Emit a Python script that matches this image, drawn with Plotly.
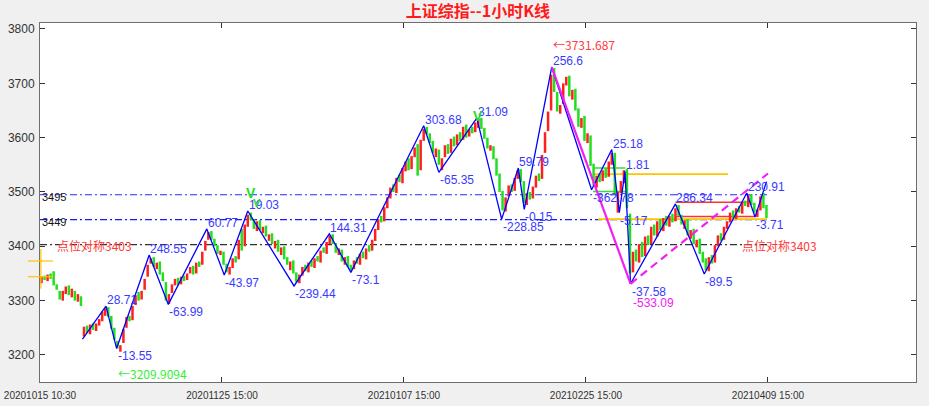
import plotly.graph_objects as go

# ---------------- data ----------------
title_text = "上证综指--1小时K线"
x_tick_vals = [0, 120, 240, 360, 480]
x_tick_text = ["20201015 10:30", "20201125 15:00", "20210107 15:00",
               "20210225 15:00", "20210409 15:00"]
y_tick_vals = [3200, 3300, 3400, 3500, 3600, 3700, 3800]

# candles (each candle = 2 hourly bars)
candle_open = [
    3332, 3346, 3336, 3350, 3354, 3330, 3318, 3300, 3312, 3328,
    3306, 3318, 3298, 3308, 3234, 3254, 3238, 3258, 3244, 3254,
    3262, 3272, 3288, 3272, 3250, 3226, 3206, 3222, 3250, 3272,
    3264, 3292, 3316, 3302, 3320, 3344, 3368, 3380, 3358, 3372,
    3352, 3334, 3294, 3314, 3328, 3342, 3330, 3346, 3338, 3350,
    3364, 3350, 3372, 3366, 3392, 3412, 3428, 3414, 3402, 3384,
    3390, 3368, 3348, 3360, 3382, 3376, 3432, 3400, 3436, 3462,
    3450, 3428, 3448, 3424, 3438, 3410, 3424, 3396, 3412, 3384,
    3400, 3380, 3356, 3374, 3352, 3332, 3346, 3366, 3352, 3374,
    3360, 3382, 3370, 3398, 3386, 3404, 3422, 3406, 3384, 3394,
    3366, 3382, 3366, 3358, 3380, 3366, 3390, 3376, 3402, 3392,
    3410, 3430, 3456, 3446, 3470, 3488, 3514, 3498, 3532, 3516,
    3538, 3562, 3542, 3564, 3588, 3540, 3594, 3620, 3608, 3594,
    3564, 3578, 3540, 3564, 3588, 3572, 3602, 3586, 3610, 3596,
    3624, 3602, 3620, 3610, 3618, 3636, 3618, 3600, 3576, 3584,
    3562, 3534, 3502, 3464, 3492, 3514, 3502, 3524, 3542, 3520,
    3476, 3500, 3488, 3508, 3534, 3524, 3572, 3612, 3650, 3728,
    3684, 3644, 3662, 3696, 3714, 3670, 3690, 3654, 3618, 3640,
    3590, 3604, 3552, 3508, 3534, 3520, 3544, 3528, 3550, 3572,
    3462, 3498, 3516, 3542, 3460, 3352, 3394, 3370, 3408, 3382,
    3420, 3404, 3440, 3418, 3450, 3428, 3456, 3436, 3460, 3446,
    3476, 3458, 3432, 3450, 3414, 3432, 3398, 3414, 3390, 3378,
    3354, 3384, 3370, 3400, 3424, 3412, 3432, 3444, 3466, 3450,
    3474, 3460, 3484, 3472, 3496, 3480, 3454, 3466, 3498, 3476,
]
candle_close = [
    3345, 3338, 3348, 3340, 3328, 3320, 3302, 3318, 3326, 3310,
    3322, 3300, 3312, 3290, 3252, 3240, 3256, 3246, 3258, 3266,
    3280, 3286, 3270, 3248, 3228, 3212, 3218, 3248, 3270, 3262,
    3290, 3310, 3300, 3318, 3340, 3366, 3378, 3362, 3370, 3348,
    3336, 3300, 3312, 3330, 3340, 3328, 3344, 3336, 3350, 3362,
    3348, 3370, 3362, 3390, 3410, 3426, 3412, 3400, 3386, 3392,
    3366, 3352, 3362, 3378, 3370, 3412, 3392, 3440, 3458, 3448,
    3432, 3446, 3430, 3436, 3418, 3422, 3404, 3410, 3390, 3398,
    3376, 3366, 3372, 3350, 3334, 3348, 3362, 3354, 3370, 3362,
    3378, 3372, 3392, 3388, 3408, 3420, 3404, 3388, 3396, 3372,
    3380, 3362, 3356, 3374, 3368, 3386, 3378, 3396, 3390, 3412,
    3432, 3450, 3444, 3472, 3490, 3508, 3500, 3526, 3518, 3544,
    3556, 3540, 3566, 3582, 3530, 3596, 3616, 3606, 3590, 3572,
    3580, 3550, 3562, 3586, 3570, 3598, 3584, 3606, 3594, 3620,
    3600, 3616, 3608, 3628, 3634, 3616, 3598, 3580, 3586, 3560,
    3530, 3500, 3466, 3490, 3512, 3500, 3526, 3540, 3518, 3480,
    3498, 3486, 3510, 3530, 3520, 3568, 3610, 3648, 3716, 3684,
    3648, 3660, 3700, 3712, 3676, 3688, 3650, 3620, 3636, 3594,
    3608, 3548, 3512, 3530, 3518, 3540, 3526, 3556, 3572, 3496,
    3500, 3520, 3540, 3470, 3350, 3390, 3372, 3404, 3380, 3418,
    3402, 3436, 3420, 3446, 3430, 3452, 3438, 3456, 3444, 3470,
    3456, 3440, 3448, 3420, 3430, 3404, 3412, 3386, 3370, 3356,
    3380, 3368, 3402, 3420, 3410, 3436, 3446, 3462, 3452, 3470,
    3462, 3480, 3474, 3494, 3476, 3462, 3468, 3492, 3470, 3452,
]

# zigzag pivots (bar index, price, label, kind: P=peak, T=trough)
zz_bar = [28, 43.5, 50.5, 72, 84.6, 110, 121.5, 137, 167.5, 190.8, 205, 253,
          263, 288, 304.4, 315.4, 319.3, 337.4, 363.7, 377, 382, 385.7, 389.4,
          419, 438, 466, 471.5, 479]
zz_price = [3229, 3290, 3212, 3384, 3293, 3432, 3347, 3465, 3327, 3423, 3352,
            3622, 3536, 3636, 3450, 3544, 3468, 3730, 3504, 3578, 3462, 3538,
            3331, 3478, 3349, 3498, 3454, 3519]
zz_label = ["", "28.71", "-13.55", "248.55", "-63.99", "60.77", "-43.97",
            "19.03", "-239.44", "144.31", "-73.1", "303.68", "-65.35", "31.09",
            "-228.85", "59.79", "-0.15", "256.6", "-362.78", "25.18", "-5.17",
            "1.81", "-37.58", "286.34", "-89.5", "230.91", "-3.71", ""]
zz_kind = ["", "P", "T", "P", "T", "P", "T", "P", "T", "P", "T", "P", "T", "P",
           "T", "P", "T", "P", "T", "P", "T", "P", "T", "P", "T", "P", "T", ""]

# magenta trend lines
trend_solid_bar = [337.4, 389.4]
trend_solid_price = [3730, 3331]
trend_dash_bar = [389.4, 480]
trend_dash_price = [3331, 3534]
trend_label = "-533.09"

# horizontal levels
level_upper = 3495
level_mid = 3449
level_sym = 3403
level_end_bar = 480
sym_label = "点位对称3403"

# yellow / red / green box lines: (start bar, end bar, price)
yellow_lines = [(364.6, 453.6, 3533), (368, 479.3, 3450)]
green_lines = [(364.6, 386, 3544), (364.6, 386, 3501)]
red_lines = [(419, 466, 3481), (419, 471.5, 3455)]
left_mark_levels = [3373, 3344]
left_mark_span = [3322, 3395]

high_text = "←3731.687"
low_text = "←3209.9094"

# ---------------- figure ----------------
RED = "#ff1f1f"
GREEN = "#1fe01f"
BLUE = "#0000ff"
LBLUE = "#3a3aff"
MAG = "#f020f0"
GOLD = "#ffc400"
LAT = "Liberation Sans, Arial, DejaVu Sans"
CJK = "Noto Sans CJK SC"

fig = go.Figure()

# level lines
dd = "7px,3px,2px,3px"
for lv, col in [(level_upper, "#2a2aff"), (level_mid, "#1a1aff"), (level_sym, "#333333")]:
    fig.add_trace(go.Scatter(x=[0, level_end_bar], y=[lv, lv], mode="lines",
                             line=dict(color=col, width=1.1, dash=dd),
                             hoverinfo="skip"))

for lines, col, w in [(yellow_lines, GOLD, 1.8), (green_lines, "#33dd33", 1.5),
                      (red_lines, "#ff3030", 1.5)]:
    xs, ys = [], []
    for b0, b1, p in lines:
        xs += [b0, b1, None]
        ys += [p, p, None]
    fig.add_trace(go.Scatter(x=xs, y=ys, mode="lines",
                             line=dict(color=col, width=w), hoverinfo="skip"))

# candles
cx = [2 * i + 1 for i in range(len(candle_open))]
ux, uy, dx_, dy_ = [], [], [], []
for x, o, c in zip(cx, candle_open, candle_close):
    if c >= o:
        ux += [x, x, None]; uy += [o, c, None]
    else:
        dx_ += [x, x, None]; dy_ += [o, c, None]
fig.add_trace(go.Scatter(x=ux, y=uy, mode="lines", line=dict(color=RED, width=2.5),
                         hoverinfo="skip"))
fig.add_trace(go.Scatter(x=dx_, y=dy_, mode="lines", line=dict(color=GREEN, width=2.5),
                         hoverinfo="skip"))

# zigzag
fig.add_trace(go.Scatter(x=zz_bar, y=zz_price, mode="lines",
                         line=dict(color=BLUE, width=1.3), hoverinfo="skip"))
# magenta trend
fig.add_trace(go.Scatter(x=trend_solid_bar, y=trend_solid_price, mode="lines",
                         line=dict(color=MAG, width=2.2), hoverinfo="skip"))
fig.add_trace(go.Scatter(x=trend_dash_bar, y=trend_dash_price, mode="lines",
                         line=dict(color=MAG, width=2.2, dash="8px,5px"),
                         hoverinfo="skip"))

ann = []
for b, p, t, k in zip(zz_bar, zz_price, zz_label, zz_kind):
    if not t:
        continue
    ann.append(dict(x=b, y=p, text=t, showarrow=False, xanchor="left",
                    yanchor="bottom" if k == "P" else "top",
                    yshift=-3 if k == "P" else 1, xshift=-1,
                    font=dict(family=LAT, size=12, color=LBLUE)))

# trend label
ann.append(dict(x=trend_dash_bar[0], y=trend_dash_price[0], text=trend_label,
                showarrow=False, xanchor="left", yanchor="top", yshift=-10.5,
                font=dict(family=LAT, size=12, color=MAG)))

# green V marks at peaks 19.03 and 31.09
ann.append(dict(x=zz_bar[7], y=zz_price[7], text="<b>V</b>", showarrow=False,
                xshift=3, yshift=18, font=dict(family=LAT, size=14, color="#22dd22")))
ann.append(dict(x=zz_bar[7], y=zz_price[7], text="<b>V</b>", showarrow=False,
                xshift=9, yshift=8, font=dict(family=LAT, size=11, color="#22dd22")))
ann.append(dict(x=zz_bar[13], y=zz_price[13], text="<b>V</b>", showarrow=False,
                xshift=1, yshift=2, font=dict(family=LAT, size=14, color="#22dd22")))

# extreme value labels
ann.append(dict(x=zz_bar[17], y=zz_price[17], text=high_text, showarrow=False,
                xanchor="left", yanchor="middle", yshift=23, xshift=-1,
                font=dict(family=CJK, size=12, color="#ff3a3a")))
ann.append(dict(x=zz_bar[2], y=zz_price[2], text=low_text, showarrow=False,
                xanchor="left", yanchor="middle", yshift=-25, xshift=-1,
                font=dict(family=CJK, size=12, color="#33ee33")))

# level texts
ann.append(dict(x=0, y=level_upper, text=str(level_upper), showarrow=False,
                xanchor="left", yanchor="middle", yshift=-2,
                font=dict(family=LAT, size=11, color="#111111")))
ann.append(dict(x=0, y=level_mid, text=str(level_mid), showarrow=False,
                xanchor="left", yanchor="middle", yshift=-2,
                font=dict(family=LAT, size=11, color="#111111")))
for b in (10, 461.5):
    ann.append(dict(x=b, y=level_sym, text=sym_label, showarrow=False,
                    xanchor="left", yanchor="middle", yshift=-1,
                    font=dict(family=CJK, size=12, color="#ff3a3a")))

shapes = []
for lv in left_mark_levels:
    shapes.append(dict(type="line", xref="paper", yref="y", x0=-12 / 876, x1=13 / 876,
                       y0=lv, y1=lv, line=dict(color=GOLD, width=1.2)))
shapes.append(dict(type="line", xref="paper", yref="y", x0=0.001, x1=0.001,
                   y0=left_mark_span[0], y1=left_mark_span[1],
                   line=dict(color=GOLD, width=1.2)))

axis_common = dict(showline=True, linecolor="#6e6e6e", linewidth=1, mirror="ticks",
                   ticks="inside", ticklen=5, tickcolor="#333333",
                   showgrid=False, zeroline=False, automargin=False)

fig.update_layout(
    width=929, height=406,
    margin=dict(l=40, r=13, t=23, b=24, autoexpand=False),
    paper_bgcolor="#f0f0f0", plot_bgcolor="white",
    showlegend=False,
    title=dict(text="<b>" + title_text + "</b>", x=0.5, xref="paper", xanchor="center",
               y=1 - 11 / 406, yref="container", yanchor="middle",
               font=dict(family=CJK, size=16, color="#ff1a1a")),
    xaxis=dict(range=[0, 577.6], tickvals=x_tick_vals, ticktext=x_tick_text,
               tickfont=dict(family=LAT, size=10, color="#333333"),
               ticklabelstandoff=4, **axis_common),
    yaxis=dict(range=[3150.2, 3811], tickvals=y_tick_vals,
               tickfont=dict(family=LAT, size=12, color="#333333"),
               ticklabelstandoff=2, **axis_common),
    annotations=ann,
    shapes=shapes,
)

fig.write_html("out.html", config={"displayModeBar": False},
               post_script="document.body.style.margin='0';document.body.style.background='#f0f0f0';")
